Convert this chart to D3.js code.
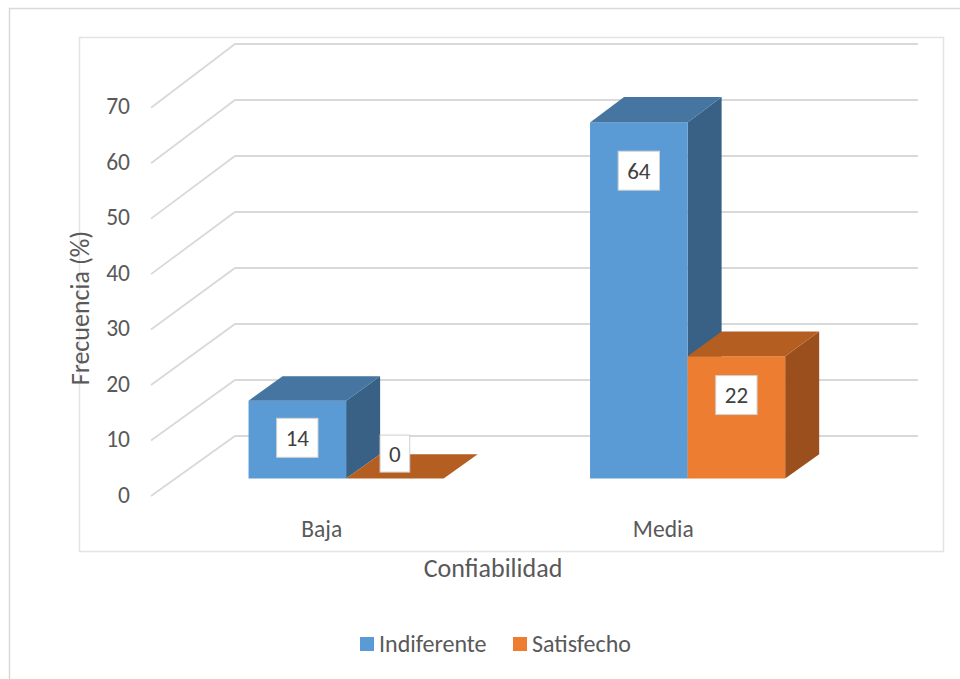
<!DOCTYPE html>
<html>
<head>
<meta charset="utf-8">
<script src="https://cdn.jsdelivr.net/npm/d3@7/dist/d3.min.js"></script>
<style>
  html, body { margin: 0; padding: 0; background: #ffffff; }
  svg { display: block; font-family: Carlito, Lato, "Open Sans", sans-serif; }
</style>
</head>
<body>
<svg id="chart" width="960" height="679"></svg>
<script>
// Data
const categories = ["Baja", "Media"];
const seriesNames = ["Indiferente", "Satisfecho"];
const indiferente = [14, 64];
const satisfecho = [0, 22];
const yTicks = [0, 10, 20, 30, 40, 50, 60, 70];
const xTitle = "Confiabilidad";
const yTitle = "Frecuencia (%)";

const seriesValues = [indiferente, satisfecho];
const palette = {
  Indiferente: { front: "#5B9BD5", top: "#4575A0", side: "#386185" },
  Satisfecho:  { front: "#ED7D31", top: "#B55E22", side: "#9A4F1D" }
};

const svg = d3.select("#chart");

// Outer chart border and plot-area border
svg.append("path")
  .attr("d", "M9.5,679V8.5H960")
  .attr("fill", "none").attr("stroke", "#D9D9D9").attr("stroke-width", 1.5);
svg.append("rect")
  .attr("x", 79.5).attr("y", 37.5).attr("width", 864).attr("height", 514)
  .attr("fill", "#fff").attr("stroke", "#E3E3E3").attr("stroke-width", 1.5);

// 3D frame: front plane and back plane of the box
const frontLeft = 151, frontRight = 834, depthDX = 84;
const x = d3.scaleBand().domain(categories).range([frontLeft, frontRight]);
const xInner = d3.scaleBand().domain(seriesNames).range([0, x.bandwidth()]).paddingOuter(0.75);
const yFront = d3.scaleLinear().domain([0, 70]).range([496, 107.7]);
const yBack = d3.scaleLinear().domain([0, 70]).range([436, 44]);
const backRight = frontRight + depthDX;

// project a point at front-plane x, value v and depth d (0 = front, 1 = back wall)
function proj(xf, v, d) {
  return [xf + depthDX * d, yFront(v) * (1 - d) + yBack(v) * d];
}

// Gridlines: side wall diagonal + back wall horizontal
const grid = svg.append("g");
yTicks.forEach(t => {
  const p0 = proj(frontLeft, t, 0), p1 = proj(frontLeft, t, 1);
  grid.append("path")
    .attr("d", `M${p0[0]},${p0[1]}L${p1[0]},${p1[1]}L${backRight},${p1[1]}`)
    .attr("fill", "none").attr("stroke", "#D9D9D9").attr("stroke-width", 1.8);
});

// Value axis labels
svg.append("g").selectAll("text").data(yTicks).join("text")
  .attr("x", 130).attr("y", d => yFront(d) + 1)
  .attr("text-anchor", "end").attr("dominant-baseline", "middle")
  .attr("fill", "#595959").attr("font-size", 23.5)
  .text(d => d);

// Category labels
svg.append("g").selectAll("text").data(categories).join("text")
  .attr("x", d => x(d) + x.bandwidth() / 2).attr("y", 537)
  .attr("text-anchor", "middle")
  .attr("fill", "#595959").attr("font-size", 23.5)
  .text(d => d);

// Axis titles
svg.append("text")
  .attr("transform", "translate(89,308) rotate(-90)")
  .attr("text-anchor", "middle")
  .attr("fill", "#595959").attr("font-size", 26)
  .text(yTitle);
svg.append("text")
  .attr("x", 493).attr("y", 577)
  .attr("text-anchor", "middle")
  .attr("fill", "#595959").attr("font-size", 26)
  .text(xTitle);

// 3D columns
const d0 = 0.29, d1 = 0.695;
const poly = pts => "M" + pts.map(p => p.join(",")).join("L") + "Z";
const bars = [];
categories.forEach((c, ci) => {
  seriesNames.forEach((s, si) => {
    const xl = x(c) + xInner(s), xr = xl + xInner.bandwidth();
    bars.push({ c, s, v: seriesValues[si][ci], xl, xr });
  });
});

const barG = svg.append("g");
bars.forEach(b => {
  const col = palette[b.s];
  const fbl = proj(b.xl, 0, d0), fbr = proj(b.xr, 0, d0);
  const ftl = proj(b.xl, b.v, d0), ftr = proj(b.xr, b.v, d0);
  const bbr = proj(b.xr, 0, d1), btl = proj(b.xl, b.v, d1), btr = proj(b.xr, b.v, d1);
  if (b.v > 0) {
    barG.append("path").attr("d", poly([fbr, bbr, btr, ftr])).attr("fill", col.side);
    barG.append("path").attr("d", poly([fbl, fbr, ftr, ftl])).attr("fill", col.front);
  }
  barG.append("path").attr("d", poly([ftl, ftr, btr, btl])).attr("fill", col.top);
});

// Data labels in white boxes
const labelG = svg.append("g");
bars.forEach(b => {
  const top = proj(b.xl, b.v, d0)[1];
  const cx = (b.xl + b.xr) / 2 + depthDX * d0;
  const cy = b.v > 0 ? top + 34 + b.v * 0.22 : top - 25;
  const g = labelG.append("g");
  const rect = g.append("rect").attr("fill", "#fff").attr("stroke", "#D0D0D0").attr("stroke-width", 1);
  const t = g.append("text")
    .attr("x", cx).attr("y", cy)
    .attr("text-anchor", "middle").attr("dominant-baseline", "central")
    .attr("fill", "#404040").attr("font-size", 23)
    .text(b.v);
  const w = t.node().getComputedTextLength() + 18;
  const h = String(b.v).length > 1 ? 39 : 37;
  rect.attr("x", cx - w / 2).attr("y", cy - h / 2).attr("width", w).attr("height", h);
});

// Legend
const legend = svg.append("g");
const legendX = { Indiferente: 360, Satisfecho: 513 };
seriesNames.forEach(s => {
  legend.append("rect")
    .attr("x", legendX[s]).attr("y", 637).attr("width", 14).attr("height", 14)
    .attr("fill", palette[s].front);
  legend.append("text")
    .attr("x", legendX[s] + 19).attr("y", 652)
    .attr("fill", "#595959").attr("font-size", 24)
    .text(s);
});
</script>
</body>
</html>
